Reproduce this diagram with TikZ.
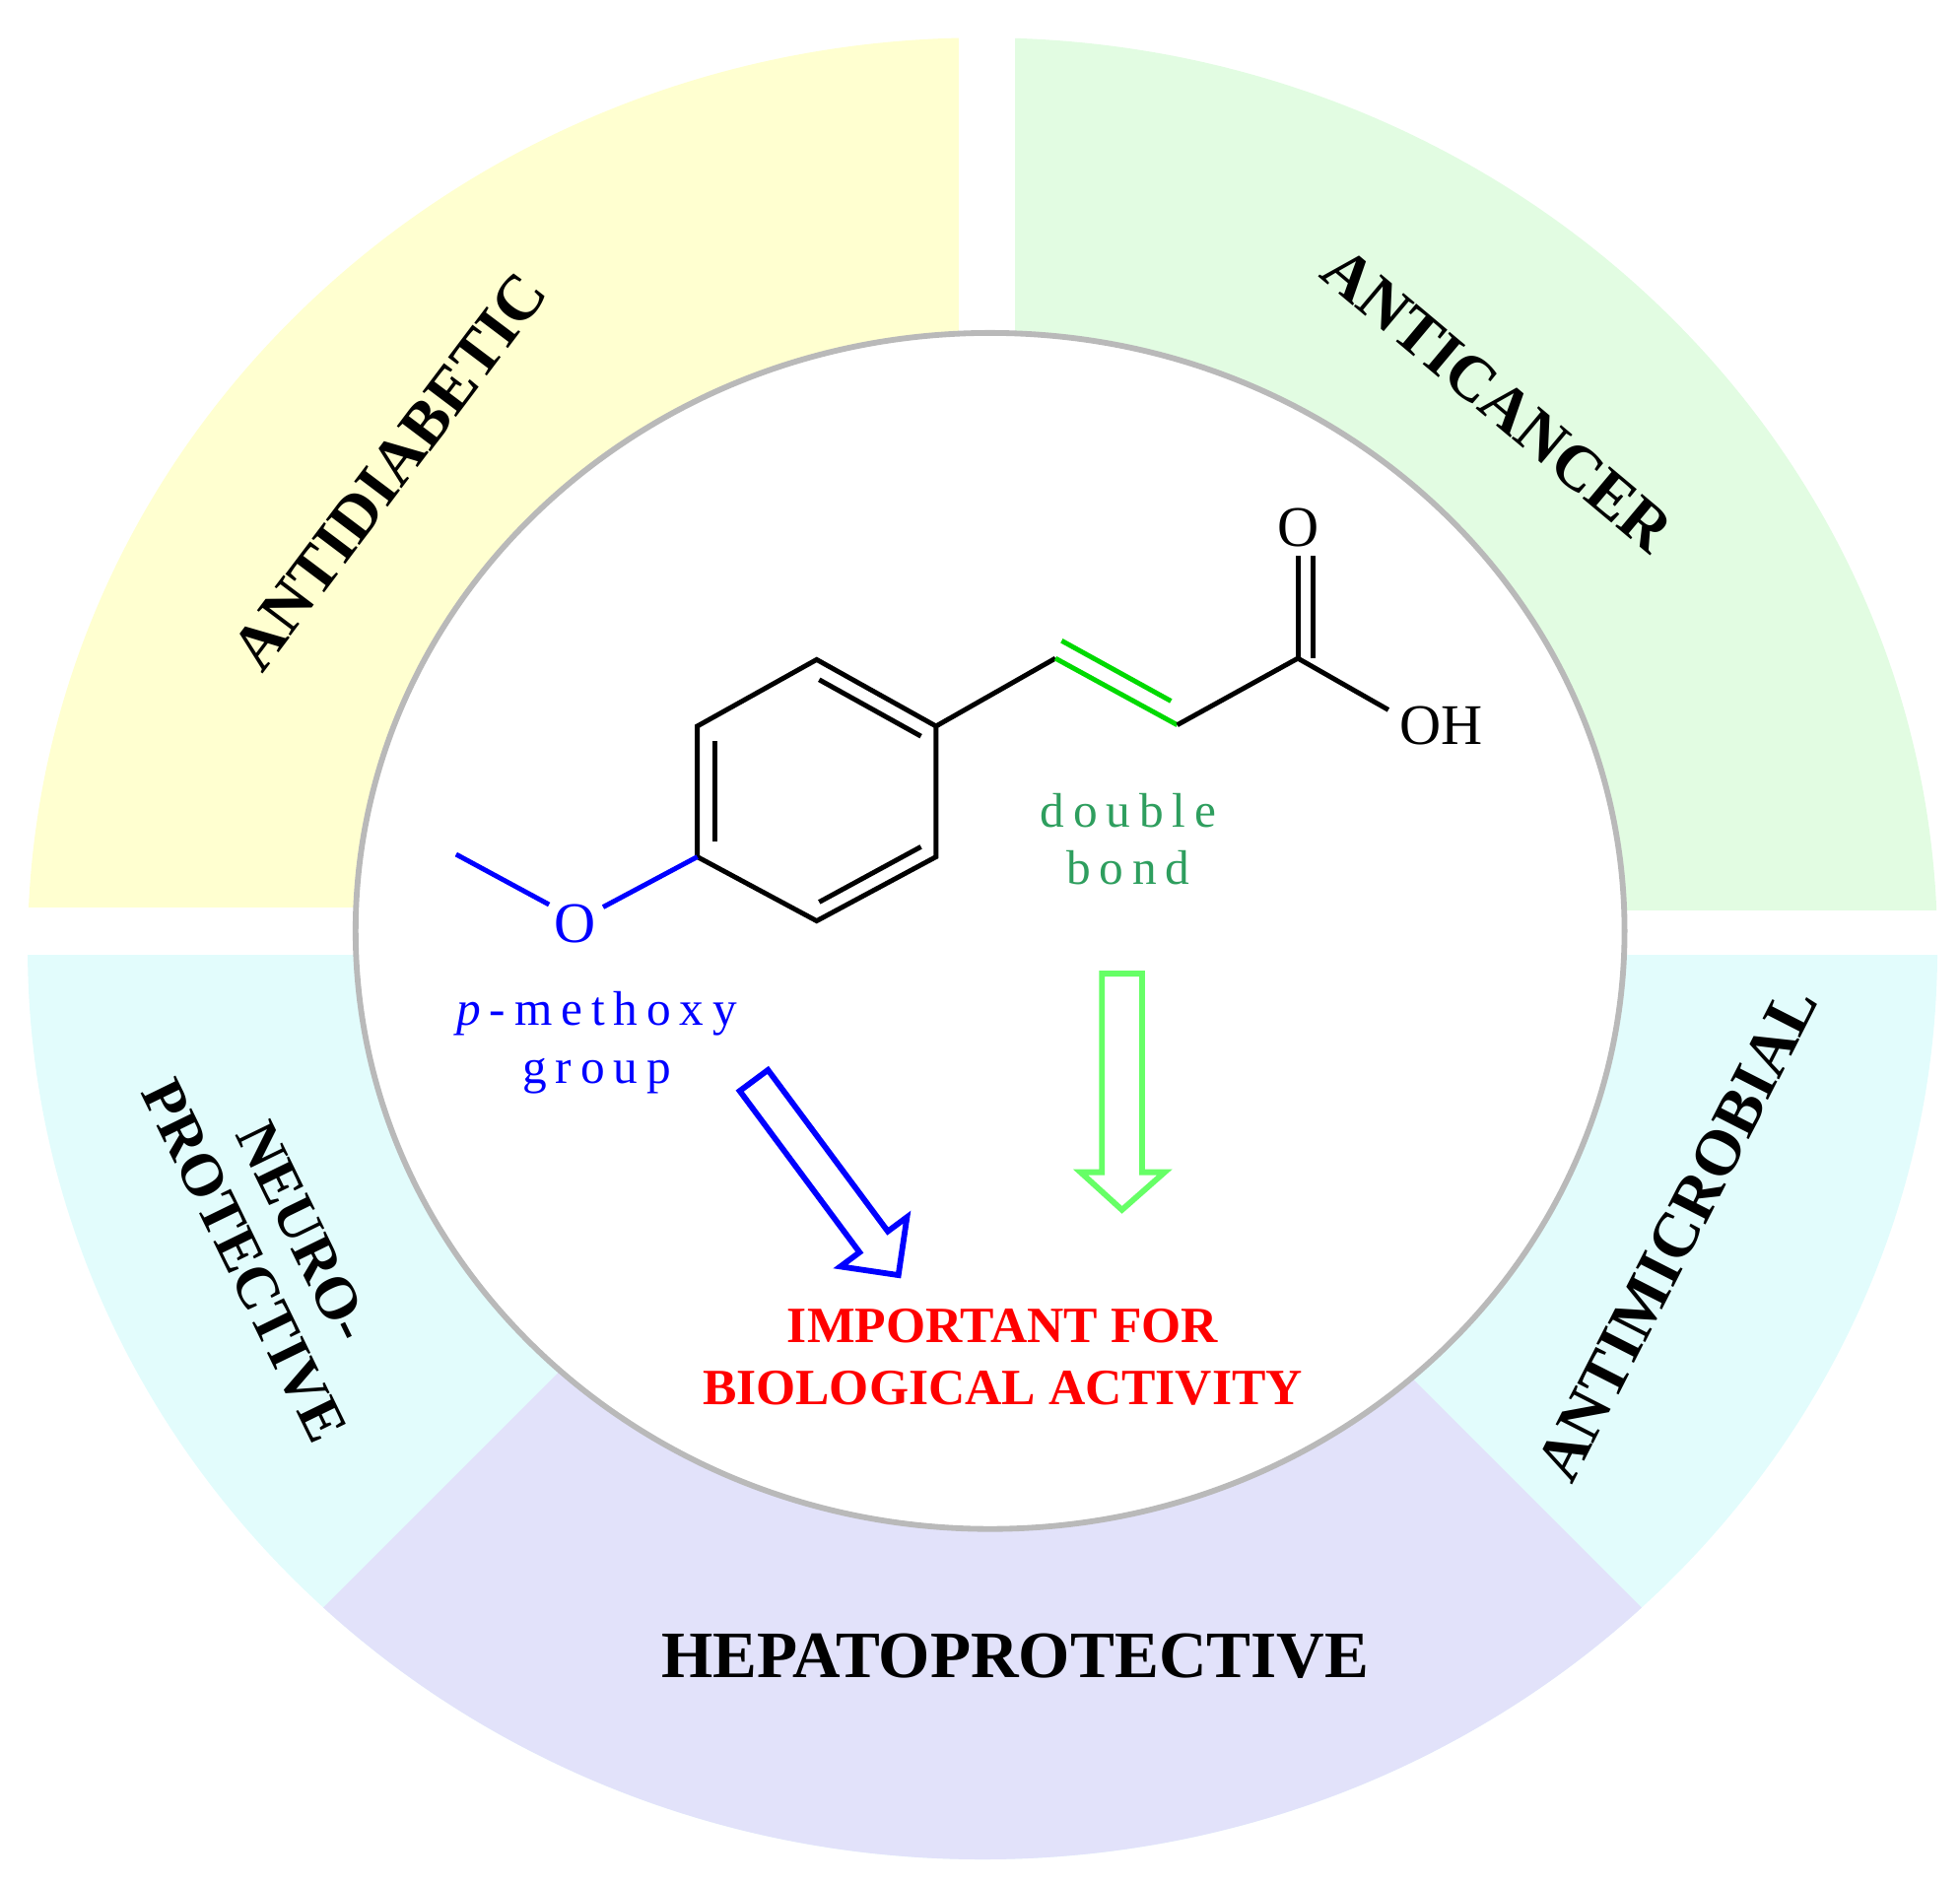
\documentclass[tikz,border=0pt]{standalone}
\usepackage{fontspec}
\setmainfont{Liberation Serif}
\begin{document}
\begin{tikzpicture}[x=0.01cm,y=-0.01cm,
 lab/.style={font=\fontsize{14.5}{15}\selectfont\bfseries, text=black},
 bond/.style={line width=1.1pt, black},
 atom/.style={font=\fontsize{13}{14}\selectfont, inner sep=1pt},
 note/.style={font=\fontsize{11}{13}\selectfont\addfontfeatures{LetterSpace=18}, align=center}]
\useasboundingbox (0,0) rectangle (1560,1499);
\definecolor{cy}{HTML}{FFFFD0}\definecolor{cg}{HTML}{E2FCE2}
\definecolor{cc}{HTML}{E2FCFC}\definecolor{cl}{HTML}{E2E2FA}
\definecolor{dg}{HTML}{2E9E5E}
\begin{scope}
\clip (782,755) ellipse [x radius=760, y radius=725];
\fill[cy] (0,0) rectangle (763,722);
\fill[cg] (808,0) rectangle (1560,725);
\fill[cc] (0,760) rectangle (1560,1499);
\fill[cl] (782,755) -- ++(-1100,1100) -- ++(2200,0) -- cycle;
\end{scope}
\fill[white,draw=gray!55,line width=1.3pt] (788,741) ellipse [x radius=505, y radius=476];
% molecule
\coordinate (r1) at (650,525); \coordinate (r2) at (745,578); \coordinate (r3) at (745,682);
\coordinate (r4) at (650,733); \coordinate (r5) at (555,682); \coordinate (r6) at (555,578);
\draw[bond] (r1)--(r2)--(r3)--(r4)--(r5)--(r6)--cycle;
\draw[bond] (652,541)--(733,586);
\draw[bond] (569,590)--(569,670);
\draw[bond] (733,674)--(652,718);
\coordinate (c1) at (840,524); \coordinate (c2) at (937,577); \coordinate (c3) at (1033,524);
\draw[bond] (r2)--(c1);
\draw[line width=1.1pt, green!85!black] (c1)--(c2) (845,510)--(932,558);
\draw[bond] (c2)--(c3);
\node[atom] (O1) at (1033,420) {O};
\node[atom] (OH) at (1147,578) {OH};
\draw[bond] (c3)--(1033,442) (1045,524)--(1045,442);
\draw[bond] (c3)--(1105,565);
\node[atom, text=blue] (O2) at (458,735) {O};
\draw[line width=1.1pt, blue] (r5)--(480,722) (437,720)--(363,680);
\node[note, text=blue] (pm) at (475,830) {\textit{p}-methoxy\\group};
\node[note, text=dg] (db) at (898,668) {double\\bond};
% arrows
\begin{scope}[shift={(600,860)}, rotate=-53.4]
\draw[blue, line width=1.3pt] (0,-14) -- (160,-14) -- (160,-33) -- (193,0) -- (160,33) -- (160,14) -- (0,14) -- cycle;
\end{scope}
\draw[green!60, line width=1.3pt] (877,775) -- (909,775) -- (909,933) -- (927,933) -- (893,963) -- (860,933) -- (877,933) -- cycle;
\node[font=\fontsize{11.5}{14}\selectfont\bfseries, text=red, align=center] (imp) at (798,1080) {IMPORTANT FOR\\BIOLOGICAL ACTIVITY};
% labels
\node[lab, rotate=53] (ad) at (310,375) {ANTIDIABETIC};
\node[lab, rotate=-40] (ac) at (1192,318) {ANTICANCER};
\node[lab, rotate=63] (am) at (1335,982) {ANTIMICROBIAL};
\node[lab, rotate=-64, align=center, font=\fontsize{13.5}{15}\selectfont\bfseries] (np) at (218,992) {NEURO-\\PROTECTIVE};
\node[font=\fontsize{15}{16}\selectfont\bfseries] (hp) at (808,1318) {HEPATOPROTECTIVE};
\end{tikzpicture}
\end{document}
